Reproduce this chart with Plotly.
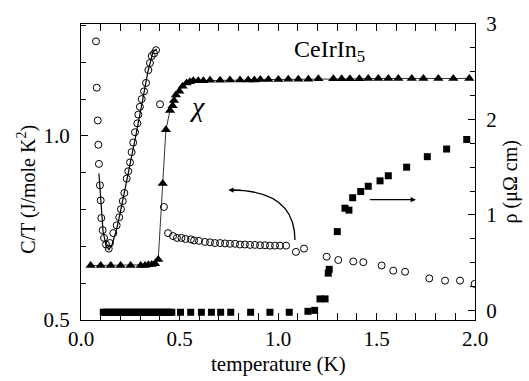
import plotly.graph_objects as go

# ---- data ----
# C/T (open circles), left axis
ct_T = [0.076, 0.080, 0.085, 0.088, 0.091, 0.096, 0.100, 0.103, 0.110, 0.117, 0.127, 0.141,
        0.147, 0.164, 0.181, 0.194, 0.203, 0.212, 0.220, 0.232, 0.240, 0.249, 0.257, 0.265,
        0.274, 0.286, 0.291, 0.299, 0.308, 0.320, 0.330, 0.342, 0.350, 0.359, 0.371, 0.381,
        0.401, 0.421,
        0.442, 0.467, 0.487, 0.510, 0.530, 0.558, 0.574, 0.599, 0.629, 0.655, 0.680, 0.706,
        0.731, 0.756, 0.782, 0.807, 0.832, 0.858, 0.883, 0.909, 0.934, 0.959, 0.985, 1.010,
        1.041, 1.091, 1.132, 1.247, 1.306, 1.382, 1.433, 1.526, 1.585, 1.645, 1.768, 1.848,
        1.924, 1.998]
ct_val = [1.257, 1.131, 1.042, 0.976, 0.924, 0.866, 0.825, 0.777, 0.744, 0.723, 0.705, 0.694,
          0.709, 0.736, 0.757, 0.779, 0.801, 0.823, 0.845, 0.884, 0.904, 0.928, 0.956, 0.982,
          1.010, 1.034, 1.058, 1.079, 1.100, 1.121, 1.144, 1.179, 1.198, 1.217, 1.224, 1.233,
          1.086, 0.807,
          0.736, 0.728, 0.723, 0.723, 0.720, 0.719, 0.716, 0.715, 0.712, 0.711, 0.709, 0.709,
          0.708, 0.707, 0.707, 0.705, 0.705, 0.704, 0.704, 0.703, 0.703, 0.702, 0.702, 0.702,
          0.702, 0.685, 0.694, 0.672, 0.663, 0.659, 0.657, 0.648, 0.634, 0.631, 0.613, 0.607,
          0.607, 0.598]

# fit line through the C/T minimum
fit_T = [0.091, 0.1015, 0.112, 0.127, 0.142, 0.157, 0.178, 0.198, 0.218, 0.249, 0.279,
         0.310, 0.340, 0.365, 0.384]
fit_val = [0.898, 0.814, 0.741, 0.702, 0.691, 0.704, 0.741, 0.788, 0.840, 0.919, 1.003,
           1.089, 1.175, 1.228, 1.236]

# chi (filled triangles), arbitrary units on left axis
chi_T = [0.049, 0.100, 0.151, 0.201, 0.252, 0.303, 0.325, 0.342, 0.359, 0.376, 0.392,
         0.415, 0.431, 0.452, 0.465, 0.472, 0.482, 0.499, 0.516, 0.536, 0.553, 0.570, 0.595,
         0.621, 0.655, 0.706, 0.756, 0.807, 0.849, 0.880, 0.910, 0.951, 1.002, 1.052, 1.103,
         1.154, 1.205, 1.281, 1.323, 1.365, 1.413, 1.458, 1.509, 1.560, 1.611, 1.679, 1.738,
         1.814, 1.890, 1.971]
chi_val = [0.648, 0.648, 0.648, 0.648, 0.648, 0.648, 0.648, 0.650, 0.651, 0.653, 0.664,
           0.871, 1.017, 1.069, 1.082, 1.096, 1.111, 1.121, 1.135, 1.144, 1.147, 1.150, 1.150,
           1.150, 1.151, 1.151, 1.152, 1.152, 1.152, 1.152, 1.153, 1.153, 1.153, 1.154, 1.154,
           1.154, 1.155, 1.155, 1.155, 1.155, 1.155, 1.156, 1.156, 1.156, 1.156, 1.156, 1.156,
           1.156, 1.156, 1.156]

# resistivity (filled squares), right axis
rho_T = [0.113, 0.125, 0.137, 0.149, 0.161, 0.173, 0.185, 0.197, 0.209, 0.221, 0.233,
         0.245, 0.257, 0.269, 0.281, 0.293, 0.305, 0.317, 0.329, 0.341, 0.353, 0.365, 0.377,
         0.389, 0.401, 0.413, 0.425, 0.437, 0.449, 0.461,
         0.505, 0.557, 0.611, 0.662, 0.709, 0.760, 0.861, 0.959, 1.057, 1.152, 1.186,
         1.213, 1.239, 1.255, 1.260, 1.301, 1.340, 1.360, 1.379, 1.420, 1.458, 1.518, 1.560,
         1.653, 1.758, 1.856, 1.958]
rho_val = [-0.02] * 30 + [-0.02, -0.02, -0.02, -0.02, -0.02, -0.02, -0.02, -0.02, -0.02,
                          -0.01, 0.0,
                          0.12, 0.12, 0.39, 0.43, 0.825, 1.07, 1.05, 1.18, 1.245, 1.30, 1.357,
                          1.41, 1.50, 1.61, 1.69, 1.79]

x_ticks = [0.0, 0.5, 1.0, 1.5, 2.0]
x_ticklabels = ["0.0", "0.5", "1.0", "1.5", "2.0"]

FONT = "Liberation Serif, Times New Roman, DejaVu Serif, serif"

fig = go.Figure()

fig.add_trace(go.Scatter(x=fit_T, y=fit_val, mode="lines",
                         line=dict(color="black", width=1.2), showlegend=False))
fig.add_trace(go.Scatter(x=ct_T, y=ct_val, mode="markers",
                         marker=dict(symbol="circle-open", size=7, color="black",
                                     line=dict(width=1, color="black")),
                         showlegend=False))
fig.add_trace(go.Scatter(x=chi_T, y=chi_val, mode="lines+markers",
                         line=dict(color="black", width=0.8),
                         marker=dict(symbol="triangle-up", size=9, color="black"),
                         showlegend=False))
fig.add_trace(go.Scatter(x=rho_T, y=rho_val, mode="markers", yaxis="y2",
                         marker=dict(symbol="square", size=7, color="black"),
                         showlegend=False))

axis_common = dict(showline=True, linecolor="black", linewidth=1.2, ticks="inside",
                   tickcolor="black", tickwidth=1, showgrid=False, zeroline=False,
                   tickfont=dict(family=FONT, size=21, color="black"))

fig.update_layout(
    width=529, height=381,
    margin=dict(l=81, r=54, t=13, b=61),
    plot_bgcolor="white", paper_bgcolor="white",
    font=dict(family=FONT, color="black"),
    xaxis=dict(range=[0, 2.0], tickvals=x_ticks, ticktext=x_ticklabels, ticklen=7,
               mirror="allticks", ticklabelstandoff=0,
               minor=dict(dtick=0.1, ticks="inside", ticklen=5, tickcolor="black"),
               **axis_common),
    yaxis=dict(range=[0.5, 1.304], tickvals=[0.5, 1.0], ticktext=["0.5", "1.0"], ticklen=7,
               ticklabelstandoff=6,
               minor=dict(dtick=0.1, ticks="inside", ticklen=5, tickcolor="black"),
               **axis_common),
    yaxis2=dict(range=[-0.101, 3.0], overlaying="y", side="right", tickvals=[0, 1, 2, 3],
                ticktext=["0", "1", "2", "3"], ticklen=7, ticklabelstandoff=6,
                minor=dict(dtick=0.25, ticks="inside", ticklen=5, tickcolor="black"),
                **axis_common),
)

# axis titles
fig.add_annotation(text="temperature (K)", xref="paper", yref="paper", x=0.5, y=-0.15,
                   xanchor="center", yanchor="middle", showarrow=False,
                   font=dict(family=FONT, size=21, color="black"))
fig.add_annotation(text="C/T (J/mole K<sup>2</sup>)", xref="paper", yref="paper",
                   x=-0.137, y=0.44, xanchor="center", yanchor="middle", textangle=-90,
                   showarrow=False, font=dict(family=FONT, size=20, color="black"))
fig.add_annotation(text="ρ (μΩ cm)", xref="paper", yref="paper",
                   x=1.089, y=0.465, xanchor="center", yanchor="middle", textangle=-90,
                   showarrow=False, font=dict(family=FONT, size=20, color="black"))

# labels
fig.add_annotation(text="CeIrIn<sub>5</sub>", x=1.26, y=1.23, xref="x", yref="y",
                   showarrow=False, font=dict(family=FONT, size=24, color="black"))
fig.add_annotation(text="χ", x=0.59, y=1.08, xref="x", yref="y",
                   showarrow=False, font=dict(family=FONT, size=28, color="black",
                                              style="italic"))

# straight arrow (to resistivity)
fig.add_annotation(x=1.70, y=1.16, ax=1.459, ay=1.16, xref="x", yref="y2",
                   axref="x", ayref="y2", text="", showarrow=True, arrowhead=2,
                   arrowsize=0.8, arrowwidth=1.3, arrowcolor="black")

# curved arrow (to C/T)
fig.add_shape(type="path", xref="x", yref="y",
              path="M 1.086,0.717 Q 1.086,0.853 0.76,0.853",
              line=dict(color="black", width=1.3))
fig.add_annotation(x=0.748, y=0.853, ax=14, ay=0, xref="x", yref="y", text="",
                   showarrow=True, arrowhead=2, arrowsize=0.8, arrowwidth=1.3,
                   arrowcolor="black")

fig.write_html("out.html")
